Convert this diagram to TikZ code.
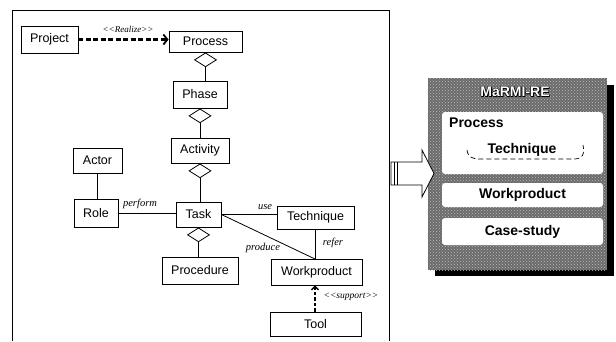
\documentclass[tikz,border=0pt]{standalone}
\usepackage{fontspec}
\setmainfont{Liberation Sans}
\newfontfamily\lblfont{Liberation Serif}
\usetikzlibrary{shapes.geometric,arrows.meta,patterns}
\begin{document}
\begin{tikzpicture}[x=1pt,y=-1pt,
  cls/.style={draw, line width=0.9pt, fill=white, inner sep=0pt,
              font=\fontsize{12.5}{14}\selectfont},
  agg/.style={draw, diamond, line width=0.8pt, fill=white, inner sep=0pt,
              minimum width=22pt, minimum height=14pt, anchor=north},
  link/.style={line width=0.8pt},
  lbl/.style={font=\lblfont\itshape\fontsize{10.5}{12}\selectfont, inner sep=0pt},
  stereo/.style={font=\lblfont\itshape\fontsize{9}{10}\selectfont, inner sep=0pt},
  depend/.style={line width=2.2pt, dash pattern=on 5pt off 2.5pt,
                 -{Straight Barb[length=4pt,width=10pt,line width=1.8pt]}},
  support/.style={line width=1.4pt, dash pattern=on 3.5pt off 2pt,
                  -{Straight Barb[length=3.5pt,width=7pt,line width=1.4pt]}},
  pbox/.style={fill=white, rounded corners=3pt, inner sep=0pt, minimum width=161pt},
  ptext/.style={font=\bfseries\fontsize{14}{16}\selectfont, inner sep=0pt},
]
\useasboundingbox (0,0) rectangle (616,341);

% frame of the metamodel
\draw[line width=0.9pt] (12,341) -- (12,10) -- (389,10) -- (389,341);

% classes
\node[cls, minimum width=57pt, minimum height=27pt] (project)   at (49.5,39.5)  {Project};
\node[cls, minimum width=73pt, minimum height=21pt] (process)   at (205.5,41.5) {Process};
\node[cls, minimum width=54pt, minimum height=27pt] (phase)     at (200,94.5)   {Phase};
\node[cls, minimum width=58pt, minimum height=25pt] (activity)  at (200,150.5)  {Activity};
\node[cls, minimum width=49pt, minimum height=25pt] (actor)     at (97.5,160.5) {Actor};
\node[cls, minimum width=44pt, minimum height=28pt] (role)      at (96,213)     {Role};
\node[cls, minimum width=45pt, minimum height=25pt] (task)      at (198.5,214.5){Task};
\node[cls, minimum width=77pt, minimum height=23pt] (technique) at (315.5,217.5){Technique};
\node[cls, minimum width=76pt, minimum height=27pt] (procedure) at (200,270.5)  {Procedure};
\node[cls, minimum width=91pt, minimum height=26pt] (workproduct) at (316.5,272){Workproduct};
\node[cls, minimum width=91pt, minimum height=24pt] (tool)      at (315.5,324)  {Tool};

% aggregation diamonds
\node[agg] (dproc) at (process.south)  {};
\node[agg] (dphase) at (phase.south)   {};
\node[agg] (dact) at (activity.south)  {};
\node[agg] (dtask) at (task.south)     {};

\draw[link] (dproc.south) -- (dproc.south |- phase.north);
\draw[link] (dphase.south) -- (dphase.south |- activity.north);
\draw[link] (dact.south) -- (dact.south |- task.north);
\draw[link] (dtask.south) -- (dtask.south |- procedure.north);

% associations
\draw[link] (actor.south) -- (actor.south |- role.north);
\draw[link] (role.east) -- (role.east -| task.west);
\draw[link] (task.east) -- (task.east -| technique.west);
\coordinate (wptop) at (315,259);
\draw[link] (task.east) -- (wptop);
\draw[link] (technique.south -| wptop) -- (wptop);

% dependencies
\draw[depend] (project.east) -- (project.east -| process.west);
\draw[support] (tool.north -| wptop) -- (workproduct.south -| wptop);

% association labels
\node[stereo] (lrealize) at (128,29)  {<{}<Realize>{}>};
\node[lbl] (lperform) at (140,204)  {perform};
\node[lbl] (luse)     at (265,207)  {use};
\node[lbl] (lproduce) at (263,248)  {produce};
\node[lbl] (lrefer)   at (333,243)  {refer};
\node[stereo, font=\lblfont\itshape\fontsize{9.5}{11}\selectfont] (lsupport) at (351,297) {<{}<support>{}>};

% MaRMI-RE panel
\fill[black] (435,85) rectangle (614,276);
\fill[black!58] (428,78) rectangle (607,270);
\path[pattern=crosshatch dots, pattern color=black!25] (428,78) rectangle (607,270);

\node[pbox, minimum height=62pt] (bproc) at (522.5,143)   {};
\node[pbox, minimum height=24pt] (bwork) at (522.5,195)   {};
\node[pbox, minimum height=27pt] (bcase) at (522.5,231.5) {};

\foreach \dx/\dy [count=\k] in {-0.6/0, 0.6/0, 0/-0.6, 0/0.6, 0.9/0.9}
  \node[ptext, text=black] (tshade\k) at (515+\dx,92+\dy) {MaRMI-RE};
\node[ptext, text=white] (title) at (515,92) {MaRMI-RE};

\node[ptext, anchor=west] (tproc) at (449,123)   {Process};
\node[ptext] (ttech) at (522,150)   {Technique};
\node[ptext] (twork) at (522.5,195) {Workproduct};
\node[ptext] (tcase) at (522.5,231.5) {Case-study};
\draw[line width=0.7pt, dash pattern=on 5pt off 3pt]
  (467,150) .. controls (468,157) and (472,159) .. (480,159) -- (574,159)
  .. controls (582,159) and (585,155) .. (583,145);

% block arrow into the panel
\draw[line width=0.8pt, fill=white]
  (391,162) -- (422,162) -- (422,150) -- (434,173.5) -- (422,197)
  -- (422,185) -- (391,185) -- cycle;
\draw[line width=0.6pt] (394,162) -- (394,185);
\draw[line width=0.6pt] (397,162) -- (397,185);
\end{tikzpicture}
\end{document}
